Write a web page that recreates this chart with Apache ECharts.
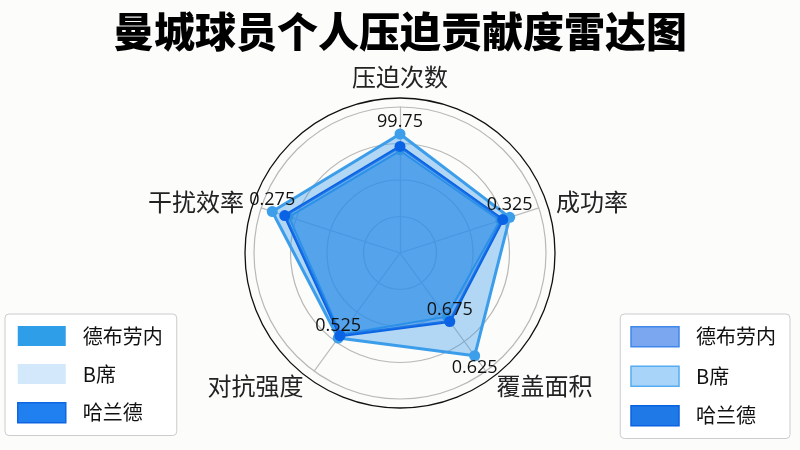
<!DOCTYPE html>
<html>
<head>
<meta charset="utf-8">
<script src="https://cdn.jsdelivr.net/npm/echarts@6/dist/echarts.min.js"></script>
<style>
html,body{margin:0;padding:0;background:#fcfcfb;}
#c{width:800px;height:450px;}
</style>
</head>
<body>
<div id="c"></div>
<script>
const titleText = '曼城球员个人压迫贡献度雷达图';
const indicatorNames = ['压迫次数', '成功率', '覆盖面积', '对抗强度', '干扰效率'];
const seriesNames = ['德布劳内', 'B席', '哈兰德'];
const debruyneValues = [0.70, 0.72, 0.54, 0.69, 0.80];
const bxiValues = [0.815, 0.79, 0.87, 0.72, 0.92];
const haalandValues = [0.73, 0.74, 0.58, 0.70, 0.83];
const bxiTopLabels = ['99.75', '0.325', '', '0.525', '0.275'];
const bxiBottomLabels = ['', '', '0.625', '', ''];
const haalandTopLabels = ['', '', '0.675', '', ''];

// ECharts radar runs counter-clockwise; the reference runs clockwise from the top.
const order = [0, 4, 3, 2, 1];
const reorder = arr => order.map(i => arr[i]);

const FONT = '"Noto Sans CJK SC", "Noto Sans", sans-serif';

function pick(labels, values) {
  const L = reorder(labels), V = reorder(values);
  return function (p) {
    let i = p.dimensionIndex;
    if (i == null) i = V.indexOf(p.value);
    return L[i] || '';
  };
}

const chart = echarts.init(document.getElementById('c'));
const labelBase = { show: true, color: '#111', fontSize: 18, fontFamily: '"Open Sans", "Noto Sans", sans-serif', distance: 3 };
const hidden = {
  symbolSize: 0.1,
  itemStyle: { color: 'rgba(0,0,0,0)' },
  lineStyle: { width: 0, opacity: 0 },
  areaStyle: { opacity: 0 }
};

chart.setOption({
  backgroundColor: '#fcfcfb',
  title: {
    text: titleText, left: 'center', top: 6,
    textStyle: { fontSize: 41, fontWeight: 900, color: '#000', fontFamily: FONT }
  },
  legend: [
    {
      orient: 'vertical', left: 5, top: 314, padding: [12, 14, 12, 12],
      backgroundColor: '#ffffff', borderColor: '#cccccc', borderWidth: 1, borderRadius: 4,
      itemWidth: 48, itemHeight: 20, itemGap: 18, icon: 'rect',
      textStyle: { fontSize: 20, color: '#111', fontFamily: FONT, padding: [0, 0, 0, 12] },
      data: [
        { name: seriesNames[0], itemStyle: { color: '#2f9ee8', borderWidth: 0 } },
        { name: seriesNames[1], itemStyle: { color: '#d3e8fb', borderWidth: 0 } },
        { name: seriesNames[2], itemStyle: { color: '#2080f0', borderColor: '#0f66e0', borderWidth: 1.5 } }
      ]
    },
    {
      orient: 'vertical', right: 10, top: 314, padding: [12, 14, 12, 10],
      backgroundColor: '#ffffff', borderColor: '#cccccc', borderWidth: 1, borderRadius: 4,
      itemWidth: 48, itemHeight: 20, itemGap: 18, icon: 'rect',
      textStyle: { fontSize: 20, color: '#111', fontFamily: FONT, padding: [0, 0, 0, 12] },
      data: [
        { name: seriesNames[0], itemStyle: { color: '#7aa7f0', borderColor: '#3f88ea', borderWidth: 1.5 } },
        { name: seriesNames[1], itemStyle: { color: '#a9d4fa', borderColor: '#57abf0', borderWidth: 1.5 } },
        { name: seriesNames[2], itemStyle: { color: '#1f7ae8', borderColor: '#0a62e0', borderWidth: 1.5 } }
      ]
    }
  ],
  radar: [
    {
      center: [400, 253], radius: 146, startAngle: 90, shape: 'circle', splitNumber: 4,
      indicator: reorder(indicatorNames).map(n => ({ name: n, min: 0, max: 1 })),
      nameGap: 18,
      axisName: { color: '#222', fontSize: 24, fontFamily: FONT },
      splitLine: { lineStyle: { color: '#b8b8b8', width: 1.2 } },
      splitArea: { show: false },
      axisLine: { lineStyle: { color: '#bdbdbd', width: 1.2 } },
      axisTick: { show: false }, axisLabel: { show: false }
    },
    {
      center: [400, 253], radius: 155, startAngle: 90, shape: 'circle', splitNumber: 1,
      indicator: indicatorNames.map(n => ({ name: '', min: 0, max: 1 })),
      axisName: { show: false },
      splitLine: { lineStyle: { color: '#111', width: 1.3 } },
      splitArea: { show: false },
      axisLine: { show: false }, axisTick: { show: false }, axisLabel: { show: false }
    }
  ],
  series: [
    {
      name: seriesNames[1], type: 'radar', radarIndex: 0, z: 2,
      symbol: 'circle', symbolSize: 11,
      data: [
        {
          name: seriesNames[1], value: reorder(bxiValues),
          itemStyle: { color: '#3d9eea' },
          lineStyle: { color: '#3d9eea', width: 3 },
          areaStyle: { color: '#3b9ceb', opacity: 0.38 }
        }
      ]
    },
    {
      name: seriesNames[0], type: 'radar', radarIndex: 0, z: 3,
      symbol: 'circle', symbolSize: 9,
      data: [
        {
          name: seriesNames[0], value: reorder(debruyneValues),
          itemStyle: { color: '#35a0d8' },
          lineStyle: { color: '#2d9be8', width: 2 },
          areaStyle: { color: '#2f9de8', opacity: 0.4 }
        }
      ]
    },
    {
      name: seriesNames[2], type: 'radar', radarIndex: 0, z: 4,
      symbol: 'circle', symbolSize: 11,
      data: [
        {
          name: seriesNames[2], value: reorder(haalandValues),
          itemStyle: { color: '#0a62e4' },
          lineStyle: { color: '#0a62e4', width: 3 },
          areaStyle: { color: '#2a86e8', opacity: 0.5 }
        }
      ]
    },
    {
      name: 'labels', type: 'radar', radarIndex: 0, z: 10, silent: true,
      symbol: 'circle',
      data: [
        Object.assign({ name: 'l1', value: reorder(bxiValues),
          label: Object.assign({}, labelBase, { position: 'top', formatter: pick(bxiTopLabels, bxiValues) }) }, hidden),
        Object.assign({ name: 'l2', value: reorder(bxiValues),
          label: Object.assign({}, labelBase, { position: 'bottom', formatter: pick(bxiBottomLabels, bxiValues) }) }, hidden),
        Object.assign({ name: 'l3', value: reorder(haalandValues),
          label: Object.assign({}, labelBase, { position: 'top', formatter: pick(haalandTopLabels, haalandValues) }) }, hidden)
      ]
    }
  ]
});
</script>
</body>
</html>
